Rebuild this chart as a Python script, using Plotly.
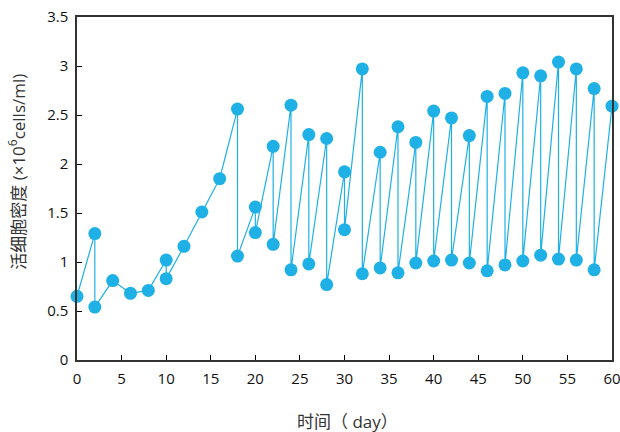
import plotly.graph_objects as go

# Sequence of measurements in time order (day, viable cell density x10^6 cells/ml)
days = [0, 2, 2, 4, 6, 8, 10, 10, 12, 14, 16, 18, 18, 20, 20, 22, 22, 24, 24,
        26, 26, 28, 28, 30, 30, 32, 32, 34, 34, 36, 36, 38, 38, 40, 40, 42, 42,
        44, 44, 46, 46, 48, 48, 50, 50, 52, 52, 54, 54, 56, 56, 58, 58, 60]
density = [0.65, 1.29, 0.54, 0.81, 0.68, 0.71, 1.02, 0.83, 1.16, 1.51, 1.85,
           2.56, 1.06, 1.56, 1.30, 2.18, 1.18, 2.60, 0.92,
           2.30, 0.98, 2.26, 0.77, 1.92, 1.33, 2.97, 0.88, 2.12, 0.94,
           2.38, 0.89, 2.22, 0.99, 2.54, 1.01, 2.47, 1.02, 2.29, 0.99,
           2.69, 0.91, 2.72, 0.97, 2.93, 1.01, 2.90, 1.07, 3.04, 1.03,
           2.97, 1.02, 2.77, 0.92, 2.59]

x_ticks = list(range(0, 61, 5))
y_ticks = [0, 0.5, 1, 1.5, 2, 2.5, 3, 3.5]
y_tick_labels = ["0", "0.5", "1", "1.5", "2", "2.5", "3", "3.5"]
x_title = "时间（ day）"
y_title = "活细胞密度 (×10<sup>6</sup>cells/ml)"

color = "#1FB1E6"
font_family = "Open Sans, Noto Sans CJK SC, sans-serif"

fig = go.Figure()
fig.add_trace(go.Scatter(
    x=days, y=density, mode="lines+markers",
    line=dict(color=color, width=1.2),
    marker=dict(color=color, size=13),
    showlegend=False, cliponaxis=False,
))

fig.update_layout(
    width=620, height=432,
    margin=dict(l=77, r=8, t=17, b=72),
    paper_bgcolor="white", plot_bgcolor="white",
    font=dict(family=font_family, size=15, color="#111"),
)
fig.update_xaxes(
    range=[0, 60], tickvals=x_ticks, ticks="inside", ticklen=5,
    tickcolor="#000", showline=True, linecolor="#333", linewidth=1.5,
    mirror=True, showgrid=False, zeroline=False, automargin=False,
    ticklabeloverflow="allow", ticklabelstandoff=4,
)
fig.update_yaxes(
    range=[0, 3.5], tickvals=y_ticks, ticktext=y_tick_labels,
    ticks="inside", ticklen=5, tickcolor="#000",
    showline=True, linecolor="#333", linewidth=1.5,
    mirror=True, showgrid=False, zeroline=False, automargin=False,
    ticklabeloverflow="allow", ticklabelstandoff=4,
)
fig.add_annotation(
    text=x_title, xref="paper", yref="paper", x=0.505, y=-0.178,
    xanchor="center", yanchor="middle", showarrow=False,
    font=dict(size=17, color="#333"),
)
fig.add_annotation(
    text=y_title, xref="paper", yref="paper", x=-0.112, y=0.549,
    xanchor="center", yanchor="middle", showarrow=False, textangle=-90,
    font=dict(size=17, color="#333"),
)

fig.write_html(
    "out.html",
    config={"displayModeBar": False},
    post_script="document.body.style.margin='0';document.body.style.overflow='hidden';",
)
